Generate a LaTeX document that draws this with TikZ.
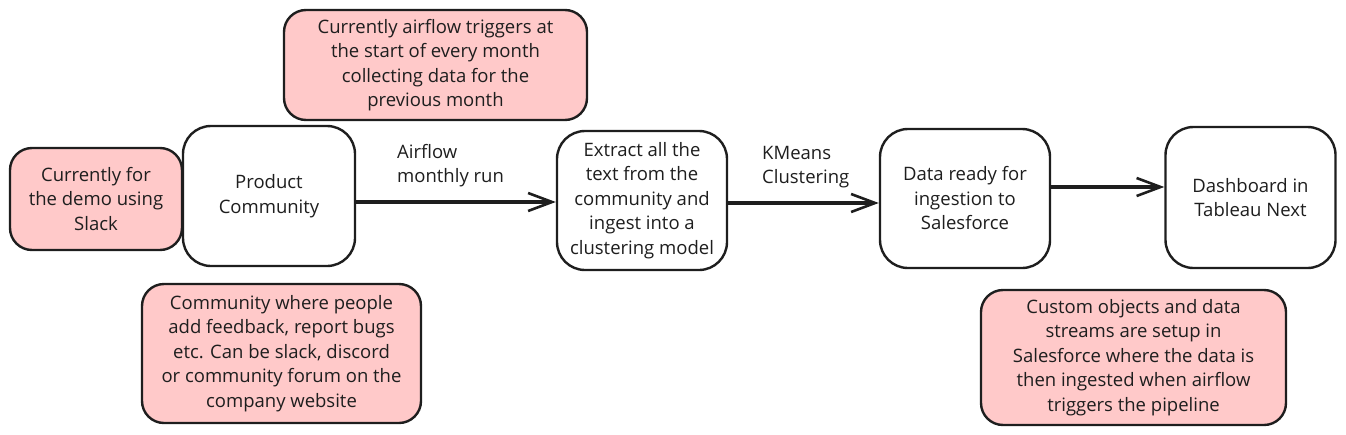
\documentclass[tikz,border=0pt]{standalone}
\usepackage{fontspec}
\setmainfont{Open Sans}
\usetikzlibrary{arrows.meta}
\definecolor{ink}{HTML}{1E1E1E}
\definecolor{notefill}{HTML}{FFC9C9}
\tikzset{
  x=1pt, y=-1pt,
  mainbox/.style={draw=ink, line width=2.4pt, rounded corners=28pt, fill=white,
    align=center, inner sep=0pt, font=\fontsize{18.5}{24.5}\selectfont, text=ink},
  notebox/.style={mainbox, fill=notefill, rounded corners=22pt},
  lbl/.style={align=left, inner sep=0pt, font=\fontsize{18.5}{24.5}\selectfont, text=ink, anchor=north west},
  arr/.style={draw=ink, line width=3.2pt, -{Straight Barb[length=24pt, width=18pt, line width=2.6pt]}}
}
\begin{document}
\begin{tikzpicture}
\useasboundingbox (0,0) rectangle (1346,434);
\node[notebox, minimum width=172pt, minimum height=102pt] (slack) at (96,199) {Currently for\\the demo using\\Slack};
\node[mainbox, minimum width=172pt, minimum height=140pt] (pc) at (269,196) {Product\\Community};
\node[notebox, minimum width=303pt, minimum height=110pt] (top) at (435.5,65) {Currently airflow triggers at\\the start of every month\\collecting data for the\\previous month};
\node[mainbox, minimum width=170pt, minimum height=139pt] (ext) at (642,200.5) {Extract all the\\text from the\\community and\\ingest into a\\clustering model};
\node[mainbox, minimum width=170pt, minimum height=139pt] (ready) at (965,198.5) {Data ready for\\ingestion to\\Salesforce};
\node[mainbox, minimum width=170pt, minimum height=141pt] (dash) at (1250.5,197.5) {Dashboard in\\Tableau Next};
\node[notebox, minimum width=279pt, minimum height=139pt] (comm) at (281.5,353.5) {Community where people\\add feedback, report bugs\\etc. Can be slack, discord\\or community forum on the\\company website};
\node[notebox, minimum width=305pt, minimum height=135pt] (cust) at (1133.5,357.5) {Custom objects and data\\streams are setup in\\Salesforce where the data is\\then ingested when airflow\\triggers the pipeline};
\node[lbl] (l1) at (397,144) {Airflow\\monthly run};
\node[lbl] (l2) at (762,146) {KMeans\\Clustering};
\draw[arr] ([yshift=-6pt]pc.east) -- ([yshift=-1.5pt]ext.west);
\draw[arr] ([yshift=-2.5pt]ext.east) -- ([yshift=-4.5pt]ready.west);
\draw[arr] ([yshift=11.5pt]ready.east) -- ([yshift=10.5pt]dash.west);
\end{tikzpicture}
\end{document}
